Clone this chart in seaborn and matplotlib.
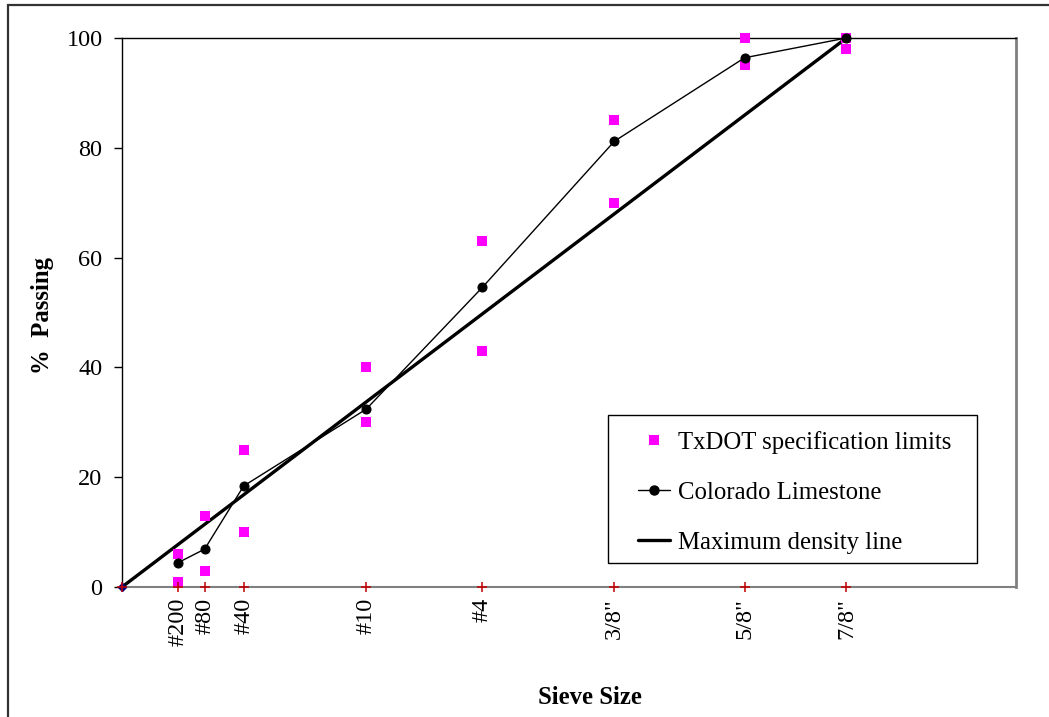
import numpy as np
import pandas as pd
import matplotlib
matplotlib.use("Agg")
import matplotlib.pyplot as plt
import seaborn as sns
from matplotlib.lines import Line2D
from matplotlib.patches import Rectangle

# Sieve designations and openings (mm)
sieve_labels = ["#200", "#80", "#40", "#10", "#4", '3/8"', '5/8"', '7/8"']
sieve_mm = [0.075, 0.18, 0.425, 2.0, 4.75, 9.5, 16.0, 22.4]

# Gradation of the aggregate (% passing)
limestone_pct = [4.4, 6.9, 18.4, 32.4, 54.6, 81.2, 96.4, 100.0]

# TxDOT specification band (% passing)
spec_upper = [6, 13, 25, 40, 63, 85, 100, 100]
spec_lower = [1, 3, 10, 30, 43, 70, 95, 98]

# Maximum density line end points (0.45 power chart)
mdl_mm = [0.0, 22.4]
mdl_pct = [0.0, 100.0]

POWER = 0.45

sns.set_style("white")
plt.rcParams["font.family"] = ["Liberation Serif", "DejaVu Serif"]
plt.rcParams.update({
    "text.color": "black",
    "axes.labelcolor": "black",
    "xtick.color": "black",
    "ytick.color": "black",
})

W, H = 1049, 717
fig = plt.figure(figsize=(W / 100, H / 100), dpi=100)
ax = fig.add_axes([122 / W, 1 - 587 / H, (1016 - 122) / W, (587 - 38) / H])

# x axis on a 0.45-power scale
ax.set_xscale(
    "function",
    functions=(
        lambda x: np.power(np.clip(x, 0, None), POWER),
        lambda y: np.power(np.clip(y, 0, None), 1 / POWER),
    ),
)

spec_df = pd.DataFrame({
    "size": sieve_mm + sieve_mm,
    "pct": spec_upper + spec_lower,
})
lime_df = pd.DataFrame({"size": sieve_mm, "pct": limestone_pct})
mdl_df = pd.DataFrame({"size": mdl_mm, "pct": mdl_pct})

sns.lineplot(data=mdl_df, x="size", y="pct", ax=ax, color="black",
             linewidth=2.4, sort=False, zorder=3)
sns.scatterplot(data=spec_df, x="size", y="pct", ax=ax, marker="s",
                color="#ff00ff", s=62, linewidth=0, zorder=4, clip_on=False)
sns.lineplot(data=lime_df, x="size", y="pct", ax=ax, color="black",
             linewidth=1.0, marker="o", markersize=6.5,
             markeredgecolor="black", sort=False, zorder=5, clip_on=False)

# small cross markers along the x axis at each sieve
tick_df = pd.DataFrame({"size": [0.0] + sieve_mm, "pct": [0] * (len(sieve_mm) + 1)})
ax.plot([0.0], [0.0], marker="D", markersize=4, color="#000080",
        linestyle="none", zorder=6, clip_on=False)
sns.scatterplot(data=tick_df, x="size", y="pct", ax=ax, marker="+",
                color="#c00000", s=55, linewidth=1.1, zorder=7, clip_on=False)

ax.set_xlim(0, 5 ** (1 / POWER))
ax.set_ylim(0, 100)
ax.set_yticks([0, 20, 40, 60, 80, 100])
ax.set_xticks(sieve_mm)
ax.set_xticklabels(sieve_labels, rotation=90)
ax.xaxis.set_minor_locator(matplotlib.ticker.NullLocator())
ax.tick_params(axis="x", length=0, pad=8, labelsize=17.5)
ax.tick_params(axis="y", length=6, width=1, color="black", direction="out",
               pad=8, labelsize=17.5, left=True)
ax.set_xlabel("")
ax.set_ylabel("")

for side in ["left", "top"]:
    ax.spines[side].set_color("black")
    ax.spines[side].set_linewidth(1.0)
ax.spines["bottom"].set_color("#808080")
ax.spines["bottom"].set_linewidth(1.5)
ax.spines["right"].set_color("#808080")
ax.spines["right"].set_linewidth(2.0)

fig.text(590 / W, 1 - 697 / H, "Sieve Size", ha="center", va="center",
         fontsize=17.8, fontweight="bold")
fig.text(42 / W, 1 - 315 / H, "%  Passing", ha="center", va="center",
         rotation=90, fontsize=17.8, fontweight="bold")

handles = [
    Line2D([], [], linestyle="none", marker="s", color="#ff00ff",
           markersize=7.5, markeredgewidth=0),
    Line2D([], [], color="black", linewidth=1.0, marker="o", markersize=6.5),
    Line2D([], [], color="black", linewidth=2.4),
]
labels = ["TxDOT specification limits", "Colorado Limestone", "Maximum density line"]
leg = fig.legend(handles, labels, loc="upper left",
                 bbox_to_anchor=(638 / W, 1 - 431 / H),
                 bbox_transform=fig.transFigure,
                 fontsize=17.8, frameon=False, labelspacing=1.12,
                 handlelength=1.3, handletextpad=0.3, borderaxespad=0,
                 borderpad=0)

# legend box
fig.add_artist(Rectangle((608 / W, 1 - 563 / H), (977 - 608) / W, (563 - 415) / H,
                         transform=fig.transFigure, fill=True, facecolor="white",
                         edgecolor="black", linewidth=1.0, zorder=8))
leg.set_zorder(9)

# outer chart border
fig.add_artist(Rectangle((8 / W, -0.05), 1.2, 1 - 5 / H + 0.05,
                         transform=fig.transFigure, fill=False,
                         edgecolor="#333333", linewidth=1.6))

fig.savefig("out.png", dpi=100)
